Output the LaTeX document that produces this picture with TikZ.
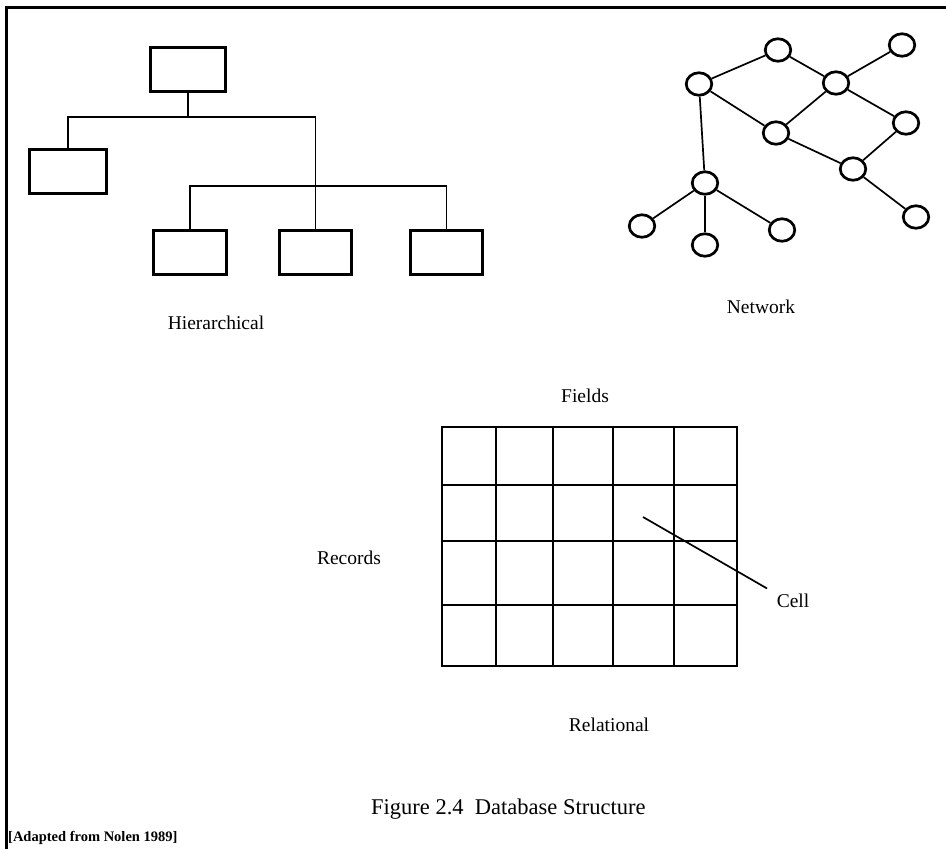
\documentclass[tikz,border=0pt]{standalone}
\usepackage{fontspec}
\setmainfont{Liberation Serif}
\usetikzlibrary{shapes.geometric}
\begin{document}
\begin{tikzpicture}[x=1pt,y=-1pt,
  hbox/.style={draw, line width=2.6pt, rectangle, inner sep=0pt, minimum width=#1, minimum height=44.5pt},
  hline/.style={line width=1.3pt},
  netnode/.style={ellipse, draw, line width=2.7pt, minimum width=25.5pt, minimum height=22.5pt, inner sep=0pt},
  netedge/.style={line width=1.7pt},
  gridline/.style={line width=2.4pt, line cap=rect},
  lab/.style={font=\fontsize{19.5}{22}\selectfont, inner sep=0pt},
  caption/.style={font=\fontsize{22.5}{26}\selectfont, inner sep=0pt},
  source/.style={font=\fontsize{14.5}{17}\selectfont\bfseries, inner sep=0pt}
]
\useasboundingbox (0,0) rectangle (946,849);
\fill[white] (0,0) rectangle (946,849);

% frame (left and top only)
\draw[line width=3pt] (6.5,849) -- (6.5,7.5) -- (946,7.5);

% ---------- Hierarchical ----------
\node[hbox=75.5pt] (root) at (188,69.5) {};
\node[hbox=76.5pt] (left) at (68,171.5) {};
\node[hbox=73.5pt] (b1) at (190,252.5) {};
\node[hbox=71.5pt] (b2) at (315.5,252.5) {};
\node[hbox=72.5pt] (b3) at (446.5,252.5) {};
\coordinate (bar1) at (0,117);
\coordinate (bar2) at (0,186);
\draw[hline] (root.south) -- (root.south |- bar1);
\draw[hline] (left.north) |- (b2.north |- bar1) -- (b2.north);
\draw[hline] (b1.north) |- (b3.north |- bar2) -- (b3.north);
\node[lab] (hier) at (216,323) {Hierarchical};

% ---------- Network ----------
\node[netnode] (nA) at (699,84) {};
\node[netnode] (nB) at (778,50) {};
\node[netnode] (nC) at (836,83) {};
\node[netnode] (nD) at (902,45) {};
\node[netnode] (nE) at (776,133) {};
\node[netnode] (nF) at (906,123) {};
\node[netnode] (nG) at (853,169) {};
\node[netnode] (nH) at (916,217) {};
\node[netnode] (nI) at (705,183) {};
\node[netnode] (nJ) at (642,226) {};
\node[netnode] (nK) at (705,245) {};
\node[netnode] (nL) at (782,230) {};
\draw[netedge] (nA) -- (nB);
\draw[netedge] (nB) -- (nC);
\draw[netedge] (nC) -- (nD);
\draw[netedge] (nA) -- (nE);
\draw[netedge] (nE) -- (nC);
\draw[netedge] (nC) -- (nF);
\draw[netedge] (nF) -- (nG);
\draw[netedge] (nE) -- (nG);
\draw[netedge] (nG) -- (nH);
\draw[netedge] (nA) -- (nI);
\draw[netedge] (nI) -- (nJ);
\draw[netedge] (nI) -- (nK);
\draw[netedge] (nI) -- (nL);
\node[lab] (net) at (761,307) {Network};

% ---------- Relational ----------
\foreach \gx in {442,496,553,613,674,737}
  \draw[gridline] (\gx,427) -- (\gx,666);
\foreach \gy in {427,485,541,605,666}
  \draw[gridline] (442,\gy) -- (737,\gy);
\node[lab] (fields) at (585,396) {Fields};
\node[lab] (records) at (349,558) {Records};
\node[lab] (cell) at (793,601) {Cell};
\coordinate (cellpt) at (643,517);
\draw[line width=1.7pt, shorten >=11pt] (cellpt) -- (cell.north west);
\node[lab] (rel) at (609,725) {Relational};

% ---------- captions ----------
\node[caption, anchor=base west] (cap) at (371,814) {Figure 2.4\ \ Database Structure};
\node[source, anchor=west] (src) at (8,838) {[Adapted from Nolen 1989]};
\end{tikzpicture}
\end{document}
